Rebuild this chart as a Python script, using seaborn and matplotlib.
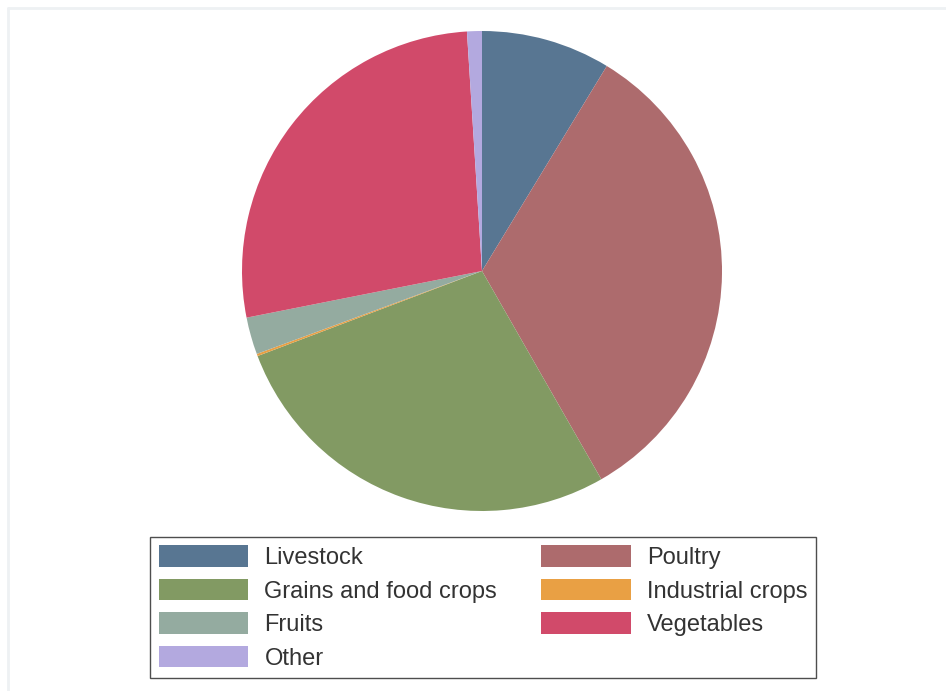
import matplotlib
matplotlib.use("Agg")
import matplotlib.pyplot as plt
import seaborn as sns
from matplotlib.patches import Patch
from matplotlib.lines import Line2D

categories = ["Livestock", "Poultry", "Grains and food crops", "Industrial crops",
              "Fruits", "Vegetables", "Other"]
values = [8.7, 33.0, 27.5, 0.15, 2.5, 27.1, 1.0]
colors = ["#587692", "#ad6b6d", "#829a63", "#e9a044", "#94aba0", "#d14a6a", "#b3a9df"]

sns.set_theme(style="white")
plt.rcParams["font.family"] = ["Liberation Sans", "DejaVu Sans"]

W, H = 946, 691
fig = plt.figure(figsize=(W / 100, H / 100), dpi=100)
fig.patch.set_facecolor("white")

cx, cy, r = 482, 271, 240
ax = fig.add_axes([(cx - r) / W, (H - cy - r) / H, 2 * r / W, 2 * r / H])
ax.pie(values, colors=colors, startangle=90, counterclock=False, radius=1,
       wedgeprops=dict(linewidth=0))
ax.set_xlim(-1, 1)
ax.set_ylim(-1, 1)
ax.set_aspect("equal")
ax.axis("off")

# faint frame lines of the screenshot
fig.add_artist(Line2D([8 / W, 1], [1 - 8 / H, 1 - 8 / H], color="#eef1f3", lw=2,
                      transform=fig.transFigure))
fig.add_artist(Line2D([8 / W, 8 / W], [0, 1 - 8 / H], color="#eef1f3", lw=2,
                      transform=fig.transFigure))

# legend laid out row-wise (matplotlib fills columns first)
order = [0, 2, 4, 6, 1, 3, 5]
handles = [Patch(facecolor=colors[i], edgecolor="none") for i in order]
labels = [categories[i] for i in order]
leg = fig.legend(handles, labels, ncol=2, loc="center",
                 bbox_to_anchor=(483 / W, 1 - 607.5 / H), frameon=True,
                 fancybox=False, edgecolor="#222222", fontsize=17,
                 handlelength=3.8, handleheight=1.02, handletextpad=0.68,
                 labelspacing=0.41, columnspacing=1.86, borderpad=0.36,
                 borderaxespad=0)
leg.get_frame().set_linewidth(1.0)
for t in leg.get_texts():
    t.set_color("#333333")

fig.savefig("out.png", dpi=100)
